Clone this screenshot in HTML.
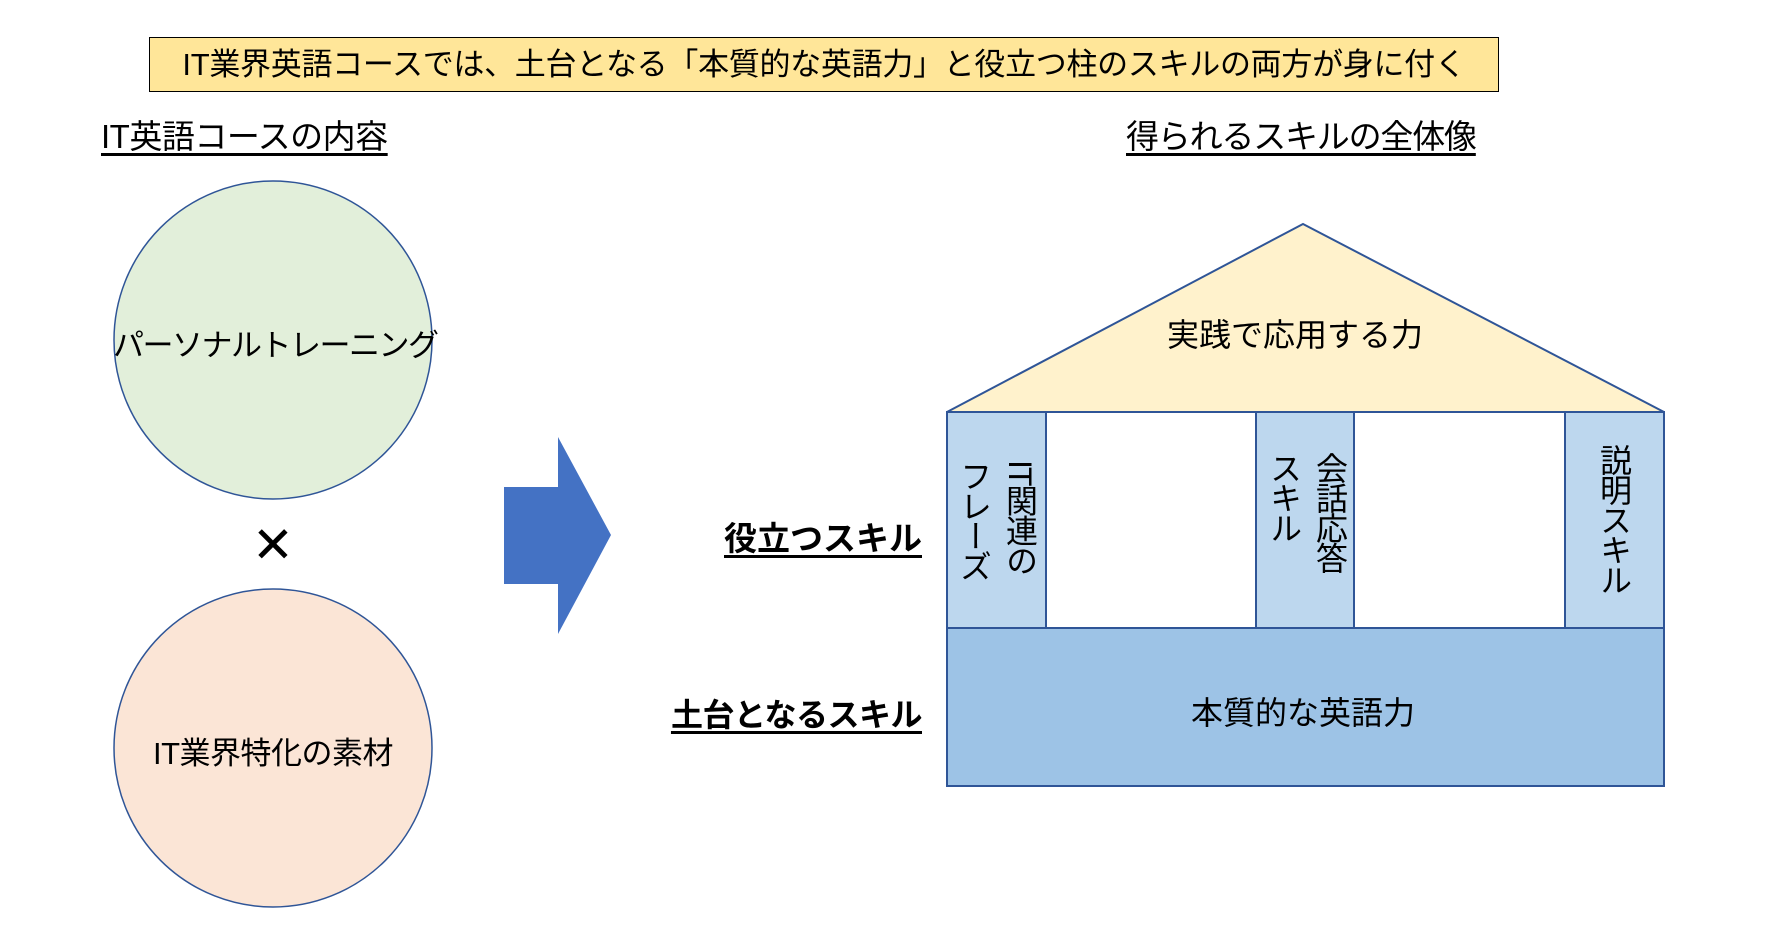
<!DOCTYPE html>
<html><head><meta charset="utf-8"><style>
body{margin:0;width:1788px;height:940px;background:#fff;position:relative;overflow:hidden;font-family:"Liberation Sans","Noto Sans CJK JP",sans-serif;color:#000}
.a{position:absolute;white-space:nowrap}
.v{position:absolute;writing-mode:vertical-rl;font-size:32px;line-height:46px;white-space:nowrap;letter-spacing:-2px}
</style></head><body>
<div class="a" style="left:149px;top:37px;width:1348px;height:53px;background:#ffe699;border:1.5px solid #000;font-size:31px;line-height:53px;text-align:center;letter-spacing:-0.3px">IT業界英語コースでは、土台となる「本質的な英語力」と役立つ柱のスキルの両方が身に付く</div>
<div class="a" style="left:101px;top:110px;font-size:33px;text-decoration:underline;text-underline-offset:5px;letter-spacing:-0.5px">IT英語コースの内容</div>
<div class="a" style="left:1126px;top:110px;font-size:33px;text-decoration:underline;text-underline-offset:5px;letter-spacing:-1.2px">得られるスキルの全体像</div>
<svg class="a" style="left:0;top:0" width="1788" height="940">
<circle cx="273" cy="340" r="159" fill="#e2efda" stroke="#2f5597" stroke-width="1.5"/>
<circle cx="273" cy="748" r="159" fill="#fbe5d6" stroke="#2f5597" stroke-width="1.5"/>
<polygon points="504,487 558,487 558,437 611,535 558,634 558,584 504,584" fill="#4472c4"/>
<polygon points="947,412 1303,224 1664,412" fill="#fff2cc" stroke="#2f5597" stroke-width="2"/>
<rect x="947" y="412" width="717" height="216" fill="#fff" stroke="#2f5597" stroke-width="2"/>
<rect x="947" y="412" width="99" height="216" fill="#bdd7ee" stroke="#2f5597" stroke-width="2"/>
<rect x="1256" y="412" width="98" height="216" fill="#bdd7ee" stroke="#2f5597" stroke-width="2"/>
<rect x="1565" y="412" width="99" height="216" fill="#bdd7ee" stroke="#2f5597" stroke-width="2"/>
<rect x="947" y="628" width="717" height="158" fill="#9dc3e6" stroke="#2f5597" stroke-width="2"/>
</svg>
<div class="a" style="left:113px;top:320px;width:320px;text-align:center;font-size:31px;letter-spacing:-1.5px">パーソナルトレーニング</div>
<div class="a" style="left:113px;top:728px;width:320px;text-align:center;font-size:31px;letter-spacing:-0.5px">IT業界特化の素材</div>
<div class="a" style="left:243px;top:515px;width:60px;text-align:center;font-size:50px;line-height:60px">✕</div>
<div class="a" style="left:622px;top:512px;width:300px;text-align:right;font-size:33px;font-weight:bold;text-decoration:underline;text-underline-offset:5px">役立つスキル</div>
<div class="a" style="left:622px;top:690px;width:300px;text-align:right;font-size:32px;font-weight:bold;text-decoration:underline;text-underline-offset:5px;letter-spacing:-0.5px">土台となるスキル</div>
<div class="a" style="left:1095px;top:310px;width:400px;text-align:center;font-size:32px">実践で応用する力</div>
<div class="a" style="left:1103px;top:688px;width:400px;text-align:center;font-size:32px">本質的な英語力</div>
<div class="v" style="left:951px;top:460px">IT関連の<br>フレーズ</div>
<div class="v" style="left:1261px;top:452px">会話応答<br>スキル</div>
<div class="v" style="left:1591px;top:444px">説明スキル</div>
</body></html>
